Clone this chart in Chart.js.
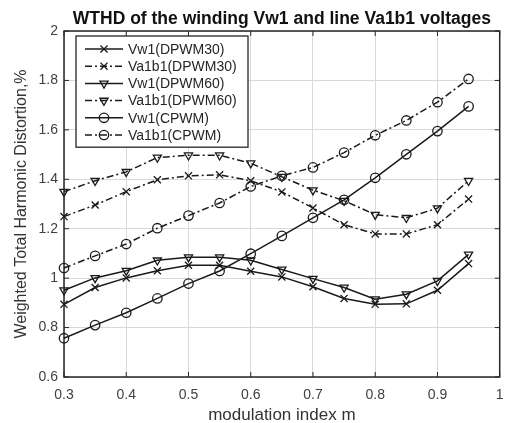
<!DOCTYPE html>
<html>
<head>
<meta charset="utf-8">
<script src="https://cdn.jsdelivr.net/npm/chart.js@4.4.1/dist/chart.umd.min.js"></script>
<style>
  html, body { margin: 0; padding: 0; background: #fff; }
  #wrap { width: 506px; height: 423px; }
</style>
</head>
<body>
<div id="wrap"><canvas id="wthd" width="506" height="423"></canvas></div>
<script>
const modIndex = [0.3, 0.35, 0.4, 0.45, 0.5, 0.55, 0.6, 0.65, 0.7, 0.75, 0.8, 0.85, 0.9, 0.95];

const vw1Dpwm30   = [0.894, 0.962, 1.001, 1.030, 1.052, 1.052, 1.028, 1.005, 0.965, 0.918, 0.894, 0.896, 0.951, 1.059];
const va1b1Dpwm30 = [1.249, 1.296, 1.350, 1.398, 1.414, 1.418, 1.394, 1.349, 1.284, 1.216, 1.179, 1.179, 1.216, 1.320];
const vw1Dpwm60   = [0.951, 1.001, 1.030, 1.072, 1.085, 1.085, 1.072, 1.035, 0.998, 0.962, 0.915, 0.935, 0.989, 1.096];
const va1b1Dpwm60 = [1.350, 1.394, 1.430, 1.488, 1.497, 1.497, 1.465, 1.410, 1.356, 1.313, 1.257, 1.244, 1.283, 1.394];
const vw1Cpwm     = [0.757, 0.810, 0.860, 0.918, 0.978, 1.029, 1.099, 1.171, 1.244, 1.317, 1.406, 1.501, 1.595, 1.695];
const va1b1Cpwm   = [1.041, 1.090, 1.138, 1.202, 1.253, 1.304, 1.371, 1.414, 1.448, 1.508, 1.578, 1.638, 1.712, 1.806];

const yTicks = [0.6, 0.8, 1, 1.2, 1.4, 1.6, 1.8, 2];
const xTicks = [0.3, 0.4, 0.5, 0.6, 0.7, 0.8, 0.9, 1];
const chartTitle = 'WTHD of the winding Vw1 and line Va1b1 voltages';

const INK = '#1a1a1a';
const DASH_DOT = [7, 3, 2, 3];
const FONT = '"Liberation Sans", Arial, sans-serif';

function series(label, values, dashed, marker) {
  return {
    label,
    data: values.map((v, i) => ({ x: modIndex[i], y: v })),
    borderColor: INK,
    borderWidth: 1.5,
    borderDash: dashed ? DASH_DOT : [],
    tension: 0,
    fill: false,
    clip: false,
    pointStyle: marker,
    pointRotation: marker === 'triangle' ? 180 : 0,
    pointRadius: marker === 'crossRot' ? 5 : 4.7,
    pointBorderWidth: 1.3,
    pointBorderColor: INK,
    pointBackgroundColor: 'rgba(0,0,0,0)'
  };
}

// frame + inward tick marks + title centred over the axes, like the original
const axesBox = {
  id: 'axesBox',
  beforeDatasetsDraw(chart) {
    const { ctx, chartArea: a, scales } = chart;
    ctx.save();
    ctx.strokeStyle = '#262626';
    ctx.lineWidth = 1.5;
    ctx.strokeRect(a.left, a.top, a.right - a.left, a.bottom - a.top);
    ctx.lineWidth = 1;
    ctx.beginPath();
    xTicks.forEach(t => {
      const x = scales.x.getPixelForValue(t);
      ctx.moveTo(x, a.bottom); ctx.lineTo(x, a.bottom - 5);
      ctx.moveTo(x, a.top); ctx.lineTo(x, a.top + 5);
    });
    yTicks.forEach(t => {
      const y = scales.y.getPixelForValue(t);
      ctx.moveTo(a.left, y); ctx.lineTo(a.left + 5, y);
      ctx.moveTo(a.right, y); ctx.lineTo(a.right - 5, y);
    });
    ctx.stroke();

    ctx.fillStyle = '#111';
    ctx.font = 'bold 17.5px ' + FONT;
    ctx.textAlign = 'center';
    ctx.textBaseline = 'middle';
    ctx.fillText(chartTitle, (a.left + a.right) / 2, a.top - 12);
    ctx.restore();
  }
};

// boxed legend in the upper left of the plot area
const boxLegend = {
  id: 'boxLegend',
  afterDraw(chart) {
    const { ctx, chartArea: a } = chart;
    const left = a.left + 12, top = a.top + 5, w = 172, rowH = 17.2;
    const sets = chart.data.datasets;
    const h = sets.length * rowH + 8;
    ctx.save();
    ctx.fillStyle = '#fff';
    ctx.fillRect(left, top, w, h);
    ctx.strokeStyle = '#262626';
    ctx.lineWidth = 1.3;
    ctx.strokeRect(left, top, w, h);
    ctx.font = '14px ' + FONT;
    ctx.textBaseline = 'middle';
    sets.forEach((ds, i) => {
      const y = top + 13 + i * rowH;
      ctx.strokeStyle = INK;
      ctx.lineWidth = ds.borderWidth;
      ctx.setLineDash(ds.borderDash);
      ctx.beginPath();
      ctx.moveTo(left + 9, y);
      ctx.lineTo(left + 47, y);
      ctx.stroke();
      ctx.setLineDash([]);
      ctx.lineWidth = ds.pointBorderWidth;
      ctx.fillStyle = ds.pointBackgroundColor;
      Chart.helpers.drawPoint(ctx, {
        pointStyle: ds.pointStyle,
        rotation: ds.pointRotation,
        radius: ds.pointRadius,
        borderWidth: ds.pointBorderWidth
      }, left + 28, y);
      ctx.fillStyle = '#262626';
      ctx.fillText(ds.label, left + 52, y + 1);
    });
    ctx.restore();
  }
};

const fmt = v => String(Math.round(v * 10) / 10);

new Chart(document.getElementById('wthd'), {
  type: 'line',
  data: {
    datasets: [
      series('Vw1(DPWM30)', vw1Dpwm30, false, 'crossRot'),
      series('Va1b1(DPWM30)', va1b1Dpwm30, true, 'crossRot'),
      series('Vw1(DPWM60)', vw1Dpwm60, false, 'triangle'),
      series('Va1b1(DPWM60)', va1b1Dpwm60, true, 'triangle'),
      series('Vw1(CPWM)', vw1Cpwm, false, 'circle'),
      series('Va1b1(CPWM)', va1b1Cpwm, true, 'circle')
    ]
  },
  options: {
    responsive: false,
    animation: false,
    layout: { padding: { left: 0, right: 0, top: 31, bottom: 0 } },
    plugins: {
      legend: { display: false },
      tooltip: { enabled: false },
      title: { display: false }
    },
    scales: {
      x: {
        type: 'linear',
        min: 0.3,
        max: 1,
        afterBuildTicks: s => { s.ticks = xTicks.map(v => ({ value: v })); },
        afterFit: s => { s.height = 46; s.paddingRight = 0; s.paddingLeft = 0; },
        ticks: {
          color: '#404040',
          padding: 10,
          font: { family: FONT, size: 14 },
          callback: fmt
        },
        grid: { color: '#d9d9d9', drawTicks: false },
        border: { display: false },
        title: {
          display: true,
          text: 'modulation index m',
          color: '#333',
          font: { family: FONT, size: 17 },
          padding: { top: 0, bottom: -3 }
        }
      },
      y: {
        min: 0.6,
        max: 2,
        afterBuildTicks: s => { s.ticks = yTicks.map(v => ({ value: v })); },
        afterFit: s => { s.width = 64; s.paddingTop = 0; s.paddingBottom = 0; },
        ticks: {
          color: '#404040',
          padding: 6,
          font: { family: FONT, size: 14 },
          callback: fmt
        },
        grid: { color: '#d9d9d9', drawTicks: false },
        border: { display: false },
        title: {
          display: true,
          text: 'Weighted Total Harmonic Distortion,%',
          color: '#333',
          font: { family: FONT, size: 16 },
          padding: { top: 12, bottom: 0 }
        }
      }
    }
  },
  plugins: [axesBox, boxLegend]
});
</script>
</body>
</html>
